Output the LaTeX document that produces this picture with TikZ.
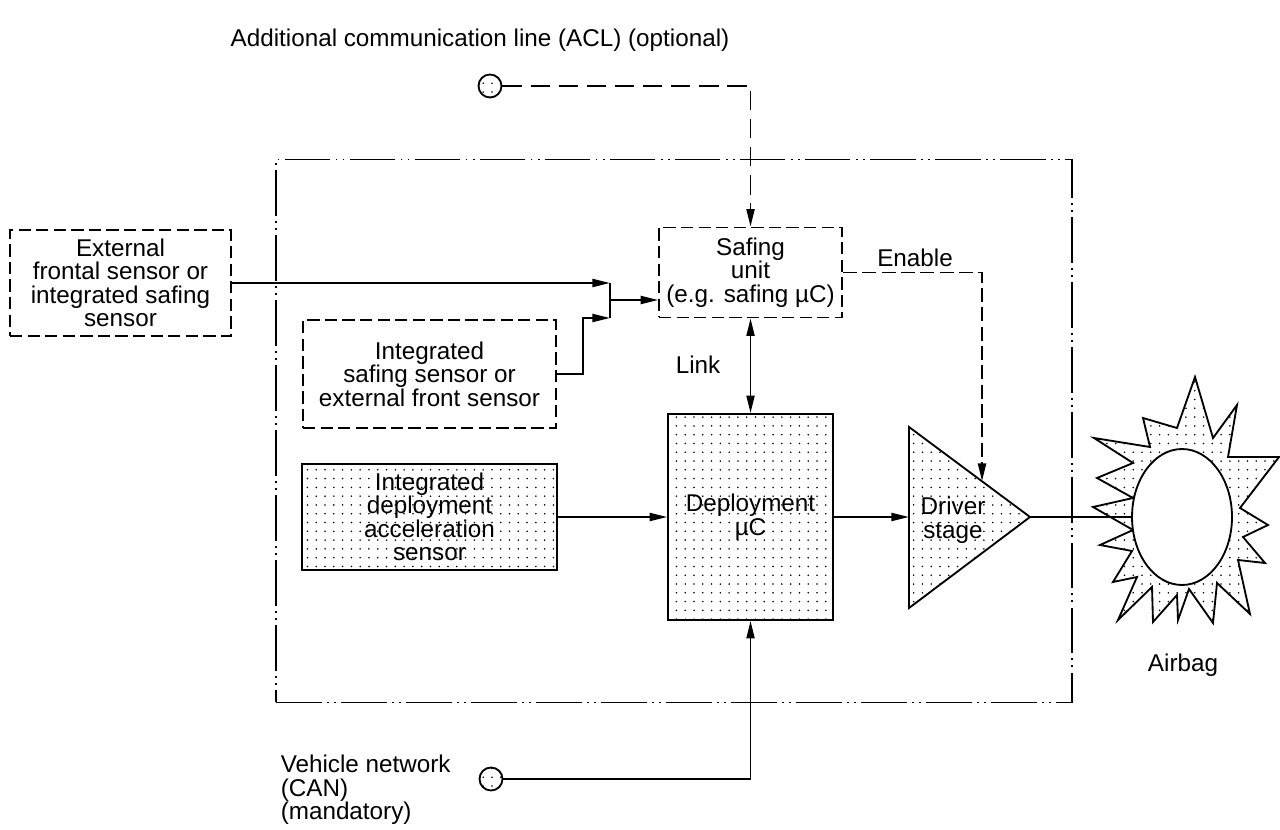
\documentclass[tikz,border=0pt]{standalone}
\usepackage{fontspec}
\setmainfont{Liberation Sans}
\usetikzlibrary{arrows.meta,patterns.meta,shapes.geometric}

\begin{document}
\begin{tikzpicture}[x=0.02cm, y=-0.02cm, line width=1.05pt,
  every node/.style={font=\fontsize{13.8}{13.4}\selectfont, align=center},
  >={Triangle[length=10pt,width=4.6pt]},
  dotfill/.style={pattern={Dots[distance=5pt,radius=0.5pt]}},
  sbox/.style={draw, dash pattern=on 7pt off 3pt, inner sep=0pt},
  dbox/.style={draw, dotfill, inner sep=0pt},
  port/.style={draw, circle, dotfill, minimum size=0.46cm, inner sep=0pt}]
\useasboundingbox (0,0) rectangle (1280,830);

% housing of the control unit
\node[draw, dash pattern=on 26pt off 3pt on 1pt off 3pt on 1pt off 3pt, minimum width=15.92cm, minimum height=10.86cm] (ecu) at (674,431) {};

\node (acltxt) at (480,40) {Additional communication line (ACL) (optional)};
\node[port] (acl) at (490,86) {};
\node[port] (can) at (491,779) {};
\node[anchor=west, align=left] (cantxt) at (274,790) {Vehicle network\\(CAN)\\(mandatory)};

\node[sbox, minimum width=4.42cm, minimum height=2.12cm] (ext) at (120.5,283) {External\\frontal sensor or\\integrated safing\\sensor};
\node[sbox, minimum width=5.06cm, minimum height=2.16cm] (intsaf) at (429.5,374) {Integrated\\safing sensor or\\external front sensor};
\node[sbox, minimum width=3.66cm, minimum height=1.8cm] (safe) at (750.5,272.5) {Safing\\unit\\(e.g. safing µC)};
\node[dbox, minimum width=5.1cm, minimum height=2.12cm] (acc) at (429.5,517) {Integrated\\deployment\\acceleration\\sensor};
\node[dbox, minimum width=3.3cm, minimum height=4.12cm] (dep) at (750.5,517) {Deployment\\µC};

% driver stage
\draw[dotfill] (909,427) -- (1030,517) -- (909,608) -- cycle;
\coordinate (drvin) at (909,517);
\coordinate (drvout) at (1030,517);
\coordinate (drven) at (982,481);
\node (drvtxt) at (953,520) {Driver\\stage};

% airbag
\draw[dotfill] plot coordinates {(1195,377) (1213,438) (1237,405) (1228,457) (1279,457) (1240,508)
  (1268,525) (1243,537) (1265,563) (1238,560) (1250,614) (1217,583) (1213,623) (1189,589)
  (1178,620) (1177,595) (1153,622) (1152,587) (1118,620) (1137,577) (1113,582) (1132,551)
  (1100,545) (1133,530) (1093,507) (1133,498) (1097,478) (1133,463) (1094,438) (1150,447)
  (1143,418) (1177,428)} -- cycle;
\node[draw, ellipse, fill=white, minimum width=2cm, minimum height=2.72cm] (bag) at (1182,517) {};
\node (bagtxt) at (1183,665) {Airbag};

% junction of the safing inputs
\coordinate (jhi) at (610,283);
\coordinate (jlo) at (610,318);
\coordinate (jn) at (610,300);
\draw (jhi) -- (jlo);
\draw[->] (ext) -- (jhi);
\draw[->] (intsaf.east) -- ++(26,0) |- (jlo);
\draw[->] (jn) -- (jn -| safe.west);

\draw[->, dash pattern=on 11pt off 5pt] (acl) -| (safe);
\draw[->, dash pattern=on 8pt off 3pt] (safe) -| (drven);
\node (entxt) at (915,258) {Enable};
\draw[<->] (safe) -- (dep);
\node (linktxt) at (698,365) {Link};
\draw[->] (acc) -- (dep);
\draw[->] (dep) -- (drvin);
\draw (drvout) -- (bag);
\draw[->] (can) -| (dep);
\end{tikzpicture}
\end{document}
